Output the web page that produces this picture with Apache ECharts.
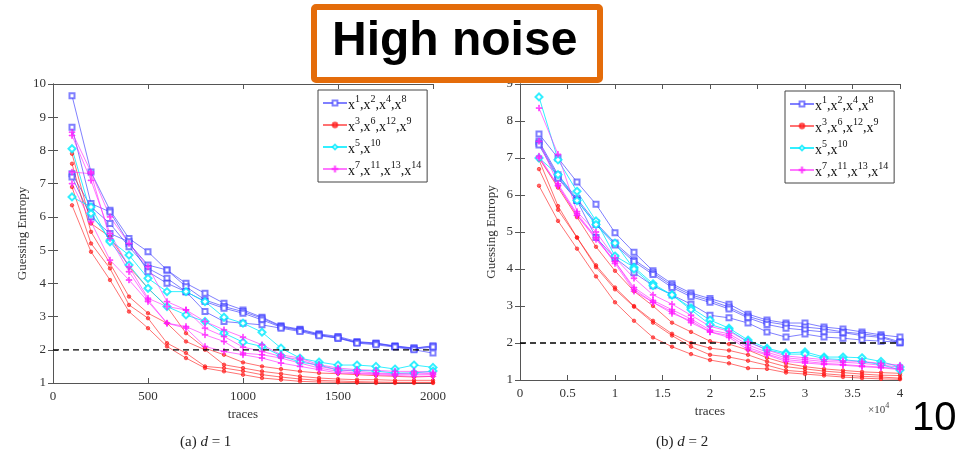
<!DOCTYPE html>
<html>
<head>
<meta charset="utf-8">
<script src="https://cdn.jsdelivr.net/npm/echarts@6/dist/echarts.min.js"></script>
<style>
html,body{margin:0;padding:0;background:#fff;}
#chart{width:965px;height:456px;}
</style>
</head>
<body>
<div id="chart"></div>
<script>
// Number of traces on the x axis of each panel
const tracesD1 = [100,200,300,400,500,600,700,800,900,1000,1100,1200,1300,1400,1500,1600,1700,1800,1900,2000];
const tracesD2 = [2000,4000,6000,8000,10000,12000,14000,16000,18000,20000,22000,24000,26000,28000,30000,32000,34000,36000,38000,40000];

// Legend groups: exponents of the power maps in each group
const groupExponents = [[1,2,4,8],[3,6,12,9],[5,10],[7,11,13,14]];
const groupNames = ['x1,x2,x4,x8','x3,x6,x12,x9','x5,x10','x7,x11,x13,x14'];

// Guessing entropy, d = 1
const d1Blue = [
  [9.65,7.35,6.2,5.35,4.95,4.4,4.0,3.7,3.4,3.2,2.98,2.72,2.62,2.48,2.4,2.25,2.2,2.12,2.05,2.1],
  [8.7,6.4,6.15,5.2,4.55,4.4,3.9,3.5,3.3,3.15,2.95,2.7,2.6,2.45,2.38,2.22,2.2,2.1,2.05,2.12],
  [7.3,6.3,5.8,5.1,4.45,4.15,3.75,3.45,3.25,3.1,2.9,2.68,2.58,2.45,2.35,2.22,2.18,2.1,2.02,2.08],
  [7.2,6.0,5.5,5.25,4.35,4.0,3.75,3.15,2.85,2.8,2.75,2.65,2.55,2.42,2.35,2.2,2.15,2.08,2.0,1.9]
];
const d1Red = [
  [7.9,5.8,5.4,4.5,3.85,3.3,2.5,2.05,1.85,1.62,1.5,1.42,1.35,1.3,1.28,1.25,1.22,1.2,1.18,1.2],
  [7.6,5.55,4.6,3.6,3.1,2.8,2.25,2.0,1.55,1.45,1.35,1.28,1.2,1.15,1.12,1.1,1.1,1.08,1.08,1.08],
  [6.9,5.2,4.45,3.35,2.95,2.2,1.9,1.5,1.45,1.36,1.25,1.18,1.12,1.08,1.06,1.04,1.03,1.02,1.02,1.02],
  [6.35,4.95,4.1,3.15,2.65,2.1,1.75,1.45,1.35,1.25,1.15,1.1,1.05,1.03,1.02,1.01,1.0,1.0,1.0,1.0]
];
const d1Cyan = [
  [8.05,6.1,5.3,4.85,4.15,3.75,3.75,3.45,2.98,2.8,2.53,2.05,1.75,1.63,1.54,1.54,1.5,1.42,1.54,1.47],
  [6.6,6.3,5.25,4.55,3.85,3.3,3.05,2.85,2.5,2.23,2.1,1.82,1.63,1.54,1.39,1.38,1.36,1.3,1.3,1.36]
];
const d1Pink = [
  [8.55,7.35,6.0,5.2,4.5,3.45,3.2,2.85,2.6,2.38,2.15,1.85,1.75,1.55,1.45,1.4,1.38,1.35,1.35,1.32],
  [8.45,7.1,5.5,4.5,3.55,3.3,3.2,2.65,2.4,2.08,1.95,1.8,1.7,1.5,1.4,1.35,1.3,1.28,1.3,1.28],
  [7.35,7.3,5.35,4.35,3.5,2.8,2.7,2.45,2.25,1.9,1.85,1.75,1.6,1.45,1.35,1.3,1.28,1.25,1.25,1.25],
  [7.0,5.85,4.7,4.1,3.45,2.8,2.65,2.1,1.95,1.85,1.75,1.6,1.5,1.4,1.3,1.28,1.25,1.22,1.2,1.2]
];

// Guessing entropy, d = 2
const d2Blue = [
  [7.65,7.0,6.35,5.75,4.98,4.45,3.95,3.6,3.35,3.2,3.05,2.78,2.62,2.54,2.54,2.43,2.38,2.3,2.22,2.16],
  [7.45,6.55,5.9,5.25,4.7,4.25,3.9,3.55,3.3,3.15,2.97,2.72,2.57,2.49,2.43,2.38,2.3,2.25,2.18,2.03],
  [7.4,6.5,5.85,5.2,4.65,4.2,3.85,3.5,3.25,3.1,2.92,2.68,2.5,2.4,2.35,2.3,2.28,2.2,2.15,2.0],
  [7.35,6.45,5.85,4.85,4.3,3.9,3.55,3.3,3.05,2.75,2.68,2.54,2.3,2.16,2.24,2.16,2.13,2.08,2.05,2.02]
];
const d2Red = [
  [7.0,6.2,5.4,4.6,3.95,3.4,3.0,2.55,2.3,2.05,1.97,1.81,1.6,1.45,1.36,1.3,1.26,1.22,1.2,1.18],
  [6.95,5.7,4.85,4.1,3.5,3.0,2.6,2.25,2.0,1.86,1.8,1.68,1.5,1.36,1.3,1.24,1.2,1.16,1.13,1.12],
  [6.7,5.6,4.85,4.05,3.45,2.98,2.55,2.2,1.9,1.68,1.62,1.52,1.4,1.26,1.22,1.17,1.13,1.1,1.08,1.05],
  [6.25,5.3,4.55,3.8,3.1,2.6,2.15,1.9,1.7,1.54,1.45,1.32,1.3,1.2,1.16,1.12,1.08,1.05,1.03,1.02]
];
const d2Cyan = [
  [8.65,6.95,6.1,5.3,4.35,4.05,3.6,3.3,2.95,2.62,2.4,2.08,1.86,1.73,1.76,1.62,1.62,1.6,1.5,1.35],
  [7.0,6.55,5.85,5.2,4.7,4.0,3.55,3.3,2.9,2.5,2.35,2.03,1.82,1.7,1.7,1.58,1.55,1.5,1.42,1.27]
];
const d2Pink = [
  [8.35,7.1,5.55,5.0,4.3,3.75,3.3,3.05,2.75,2.45,2.32,2.03,1.81,1.65,1.6,1.55,1.52,1.5,1.45,1.4],
  [7.45,6.3,5.5,4.85,4.2,3.5,3.15,2.9,2.65,2.35,2.25,1.95,1.75,1.6,1.55,1.5,1.48,1.45,1.4,1.35],
  [7.05,6.25,5.45,4.85,4.15,3.4,3.1,2.8,2.6,2.3,2.2,1.88,1.7,1.55,1.5,1.45,1.42,1.38,1.35,1.3],
  [7.0,6.25,5.45,4.8,4.2,3.45,3.1,2.85,2.55,2.3,2.15,1.82,1.68,1.5,1.46,1.42,1.4,1.36,1.33,1.28]
];

// Target guessing entropy threshold
const threshold = 2;

const serifFont = '"Liberation Serif", "DejaVu Serif", serif';
const plusPath = 'path://M4.3,0H5.7V4.3H10V5.7H5.7V10H4.3V5.7H0V4.3H4.3Z';

const styles = [
  { color: 'rgba(60,60,255,0.65)', symbol: 'emptyRect', symbolSize: 5 },
  { color: 'rgba(255,20,20,0.6)', symbol: 'circle', symbolSize: 3.5 },
  { color: 'rgba(0,235,255,0.8)', symbol: 'emptyDiamond', symbolSize: 7 },
  { color: 'rgba(255,30,255,0.6)', symbol: plusPath, symbolSize: 6 }
];

function buildSeries(groups, xs, gridIdx) {
  const out = [];
  groups.forEach((group, gi) => {
    const st = styles[gi];
    group.forEach(vals => {
      out.push({
        type: 'line',
        name: groupNames[gi],
        xAxisIndex: gridIdx * 2,
        yAxisIndex: gridIdx * 2,
        data: xs.map((x, i) => [x, vals[i]]),
        symbol: st.symbol,
        symbolSize: st.symbolSize,
        showAllSymbol: true,
        lineStyle: { color: st.color, width: 1 },
        itemStyle: { color: st.color, borderColor: st.color, borderWidth: 1 },
        emphasis: { disabled: true },
        silent: true,
        animation: false,
        z: 3
      });
    });
  });
  // dashed threshold line
  out.push({
    type: 'line',
    name: 'threshold' + gridIdx,
    xAxisIndex: gridIdx * 2,
    yAxisIndex: gridIdx * 2,
    data: [[0, threshold], [gridIdx === 0 ? 2000 : 40000, threshold]],
    symbol: 'none',
    lineStyle: { color: '#000', width: 1.3, type: [6, 4] },
    silent: true,
    animation: false,
    z: 4
  });
  return out;
}

function legendLabel(name) {
  const idx = groupNames.indexOf(name);
  return groupExponents[idx].map(e => '{b|x}{s|' + e + '}').join('{b|,}');
}

function makeXAxes(gridIdx, max, interval, fmt) {
  const axisLine = { show: true, lineStyle: { color: '#555', width: 1 } };
  const axisTick = { show: true, inside: true, length: 5, lineStyle: { color: '#555' } };
  return [
    {
      type: 'value', gridIndex: gridIdx, min: 0, max: max, interval: interval,
      axisLine, axisTick, splitLine: { show: false },
      axisLabel: { color: '#333', fontFamily: serifFont, fontSize: 13, margin: 7, formatter: fmt },
      name: 'traces', nameLocation: 'middle', nameGap: 24,
      nameTextStyle: { color: '#333', fontFamily: serifFont, fontSize: 13 }
    },
    {
      type: 'value', gridIndex: gridIdx, min: 0, max: max, interval: interval, position: 'top',
      axisLine, axisTick, splitLine: { show: false }, axisLabel: { show: false }
    }
  ];
}

function makeYAxes(gridIdx, min, max) {
  const axisLine = { show: true, lineStyle: { color: '#555', width: 1 } };
  const axisTick = { show: true, inside: true, length: 5, lineStyle: { color: '#555' } };
  return [
    {
      type: 'value', gridIndex: gridIdx, min: min, max: max, interval: 1,
      axisLine, axisTick, splitLine: { show: false },
      axisLabel: { color: '#333', fontFamily: serifFont, fontSize: 13, margin: 7 },
      name: 'Guessing Entropy', nameLocation: 'middle', nameGap: 22, nameRotate: 90,
      nameTextStyle: { color: '#333', fontFamily: serifFont, fontSize: 13 }
    },
    {
      type: 'value', gridIndex: gridIdx, min: min, max: max, interval: 1, position: 'right',
      axisLine, axisTick, splitLine: { show: false }, axisLabel: { show: false }
    }
  ];
}

const legendRich = {
  b: { fontFamily: serifFont, fontSize: 14, color: '#111', lineHeight: 18, verticalAlign: 'bottom' },
  s: { fontFamily: serifFont, fontSize: 10, color: '#111', lineHeight: 18, verticalAlign: 'top' }
};

function makeLegend(left, top) {
  return {
    data: groupNames,
    left: left, top: top,
    orient: 'vertical',
    backgroundColor: '#fff',
    borderColor: '#444',
    borderWidth: 1,
    padding: [4, 6, 4, 4],
    itemGap: 4,
    itemWidth: 24,
    itemHeight: 6,
    selectedMode: false,
    formatter: legendLabel,
    textStyle: { rich: legendRich, padding: [0, 0, 0, -4] }
  };
}

const chart = echarts.init(document.getElementById('chart'), null, { renderer: 'canvas' });

const option = {
  animation: false,
  backgroundColor: '#fff',
  grid: [
    { left: 53, top: 84, width: 380, height: 299 },
    { left: 520, top: 84, width: 380, height: 296 }
  ],
  xAxis: [
    ...makeXAxes(0, 2000, 500, v => String(v)),
    ...makeXAxes(1, 40000, 5000, v => String(v / 10000))
  ],
  yAxis: [
    ...makeYAxes(0, 1, 10),
    ...makeYAxes(1, 1, 9)
  ],
  legend: [makeLegend(318, 90), makeLegend(785, 91)],
  series: [
    ...buildSeries([d1Blue, d1Red, d1Cyan, d1Pink], tracesD1, 0),
    ...buildSeries([d2Blue, d2Red, d2Cyan, d2Pink], tracesD2, 1)
  ],
  graphic: [
    {
      type: 'rect', z: 100,
      shape: { x: 314, y: 7, width: 286, height: 73, r: 2 },
      style: { fill: '#fff', stroke: '#E46C0A', lineWidth: 6 }
    },
    {
      type: 'text', z: 101, left: 332, top: 18,
      style: { text: 'High noise', font: 'bold 48px "Liberation Sans", Arial, sans-serif', fill: '#000' }
    },
    {
      type: 'text', z: 101, left: 868, top: 402,
      style: {
        text: '{t|×10}{e|4}',
        rich: {
          t: { fontFamily: serifFont, fontSize: 11, fill: '#444', verticalAlign: 'bottom', lineHeight: 14 },
          e: { fontFamily: serifFont, fontSize: 8, fill: '#444', verticalAlign: 'top', lineHeight: 14 }
        }
      }
    },
    {
      type: 'text', z: 101, left: 912, top: 399,
      style: { text: '10', font: '40px "Liberation Sans", Arial, sans-serif', fill: '#000' }
    },
    {
      type: 'text', z: 101, left: 180, top: 435,
      style: {
        text: '{n|(a) }{i|d}{n| = 1}',
        rich: {
          n: { fontFamily: serifFont, fontSize: 15, fill: '#222' },
          i: { fontFamily: serifFont, fontSize: 15, fontStyle: 'italic', fill: '#222' }
        }
      }
    },
    {
      type: 'text', z: 101, left: 656, top: 435,
      style: {
        text: '{n|(b) }{i|d}{n| = 2}',
        rich: {
          n: { fontFamily: serifFont, fontSize: 15, fill: '#222' },
          i: { fontFamily: serifFont, fontSize: 15, fontStyle: 'italic', fill: '#222' }
        }
      }
    }
  ]
};

chart.setOption(option);
</script>
</body>
</html>
